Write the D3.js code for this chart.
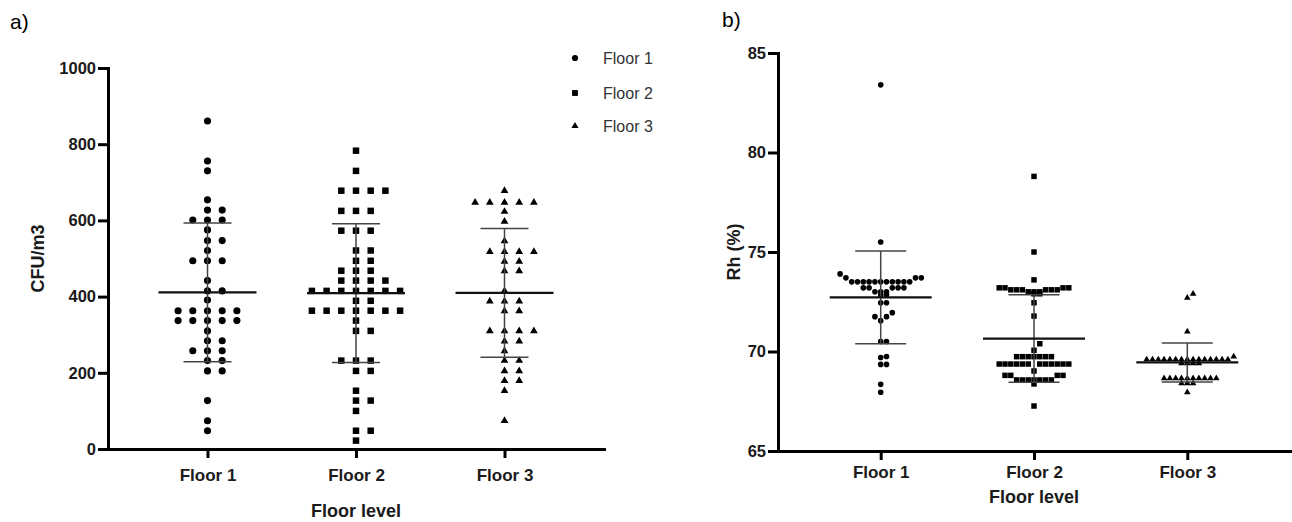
<!DOCTYPE html>
<html>
<head>
<meta charset="utf-8">
<script src="https://d3js.org/d3.v7.min.js"></script>
<style>
  body { margin: 0; background: #fff; }
  svg { display: block; }
  text { font-family: "Liberation Sans", Arial, sans-serif; }
</style>
</head>
<body>
<script>
// categories and tick values
const floors = ["Floor 1", "Floor 2", "Floor 3"];
const cfuTicks = [0, 200, 400, 600, 800, 1000];
const rhTicks = [65, 70, 75, 80, 85];

// a) CFU/m3 values
const cfuFloor1 = [861, 756, 730, 654, 627, 627, 601, 601, 601, 575, 547, 547, 521,
  494, 494, 494, 442, 415, 415, 391, 363, 363, 363, 363, 363, 337, 337, 337, 337, 337,
  310, 284, 284, 258, 258, 258, 232, 232, 205, 205, 127, 74, 48];
const cfuFloor2 = [783, 730, 678, 678, 678, 678, 625, 625, 625, 573, 573, 573, 521, 521,
  494, 494, 468, 468, 468, 442, 442, 442, 442, 415, 415, 415, 415, 415, 415, 415,
  389, 389, 363, 363, 363, 363, 363, 363, 363, 337, 310, 310, 232, 232, 232, 205, 205,
  153, 127, 127, 100, 48, 48, 22];
const cfuFloor3 = [678, 647, 647, 647, 647, 647, 623, 597, 546, 518, 518, 518, 518,
  492, 492, 467, 467, 415, 388, 388, 388, 362, 362, 310, 310, 310, 310, 283, 283, 257,
  232, 232, 205, 205, 179, 179, 153, 74];
const cfuMean = [411, 409, 410];
const cfuSd = [182, 182, 169];

// b) Rh (%) values
const rhFloor1 = [83.4, 75.5, 73.9, 73.7, 73.7, 73.7, 73.5, 73.5, 73.5, 73.5, 73.5, 73.5,
  73.5, 73.5, 73.5, 73.5, 73.5, 73.2, 73.2, 73.2, 73.2, 73.2, 73.0, 73.0, 73.0, 72.85,
  72.85, 72.45, 72.45, 71.95, 71.75, 71.75, 71.55, 70.5, 70.5, 69.75, 69.7, 69.35, 69.35,
  68.35, 67.95];
const rhFloor2 = [78.8, 75.0, 73.6, 73.2, 73.2, 73.2, 73.2, 73.1, 73.1, 73.1, 73.1, 73.1,
  73.1, 73.0, 73.0, 73.0, 72.9, 72.9, 72.45, 71.78, 70.39, 70.06, 69.74, 69.74, 69.74,
  69.74, 69.74, 69.74, 69.74, 69.37, 69.37, 69.37, 69.37, 69.37, 69.37, 69.37, 69.37,
  69.37, 69.37, 69.37, 69.37, 69.02, 68.8, 68.8, 68.8, 68.8, 68.57, 68.57, 68.57, 68.57,
  68.57, 68.57, 68.57, 68.37, 67.26];
const rhFloor3 = [72.9, 72.7, 71.0, 69.75, 69.6, 69.6, 69.6, 69.6, 69.6, 69.6, 69.6, 69.6,
  69.6, 69.6, 69.6, 69.6, 69.6, 69.6, 69.6, 69.4, 69.4, 69.4, 69.4, 68.65, 68.65, 68.65,
  68.65, 68.65, 68.65, 68.65, 68.65, 68.65, 68.65, 68.4, 68.4, 68.4, 67.95];
const rhMean = [72.72, 70.65, 69.45];
const rhSd = [2.33, 2.2, 0.98];

const W = 1292, H = 522;
const svg = d3.select("body").append("svg").attr("width", W).attr("height", H);

// spread points of one row (bin) sideways: 0, +1, -1, +2, -2 ...
function scatterLayout(values, binOf, step) {
  const bins = d3.group(values, binOf);
  const out = [];
  for (const [, pts] of bins) {
    pts.slice().sort((a, b) => a - b).forEach((v, k) => {
      const col = k === 0 ? 0 : (k % 2 ? (k + 1) / 2 : -k / 2);
      out.push({ v: v, dx: col * step });
    });
  }
  return out;
}

function drawPanel(cfg) {
  const x = d3.scalePoint().domain(floors).range(cfg.xRange).padding(0.67);
  const y = d3.scaleLinear().domain(cfg.yDomain).range(cfg.yRange);
  const g = svg.append("g");

  // points
  cfg.series.forEach((vals, i) => {
    const pts = scatterLayout(vals, cfg.binOf, cfg.step);
    g.append("g").selectAll("path")
      .data(pts)
      .join("path")
      .attr("d", d3.symbol().type(cfg.symbols[i]).size(cfg.symSize[i]))
      .attr("transform", d => "translate(" + (x(floors[i]) + d.dx) + "," + y(d.v) + ")")
      .attr("fill", "#000");
  });

  // mean and SD
  floors.forEach((f, i) => {
    const cx = x(f);
    const m = cfg.mean[i], s = cfg.sd[i];
    g.append("line").attr("x1", cx).attr("x2", cx)
      .attr("y1", y(m - s)).attr("y2", y(m + s))
      .attr("stroke", "#444").attr("stroke-width", 1.5);
    [m - s, m + s].forEach(v => {
      g.append("line").attr("x1", cx - cfg.capW / 2).attr("x2", cx + cfg.capW / 2)
        .attr("y1", y(v)).attr("y2", y(v))
        .attr("stroke", "#444").attr("stroke-width", 1.5);
    });
    g.append("line").attr("x1", cx - cfg.meanW / 2).attr("x2", cx + cfg.meanW / 2)
      .attr("y1", y(m)).attr("y2", y(m))
      .attr("stroke", "#111").attr("stroke-width", 2.3);
  });

  // axes
  const yAxis = svg.append("g")
    .attr("transform", "translate(" + cfg.xRange[0] + ",0)")
    .call(d3.axisLeft(y).tickValues(cfg.ticks).tickFormat(d3.format("d"))
      .tickSize(10).tickPadding(2).tickSizeOuter(0));
  yAxis.selectAll("text").attr("font-size", 16.5).attr("font-weight", "bold").attr("fill", "#1a1a1a")
    .attr("font-family", "'Liberation Sans', Arial, sans-serif");

  const xAxis = svg.append("g")
    .attr("transform", "translate(0," + cfg.yRange[0] + ")")
    .call(d3.axisBottom(x).tickSize(9).tickPadding(cfg.xPad).tickSizeOuter(0));
  xAxis.selectAll("text").attr("font-size", 17).attr("font-weight", "bold").attr("fill", "#1a1a1a")
    .attr("font-family", "'Liberation Sans', Arial, sans-serif");

  [yAxis, xAxis].forEach(a => {
    a.select(".domain").attr("stroke", "#000").attr("stroke-width", 3).attr("stroke-linecap", "square");
    a.selectAll(".tick line").attr("stroke", "#000").attr("stroke-width", 3);
  });

  // titles
  svg.append("text")
    .attr("x", (cfg.xRange[0] + cfg.xRange[1]) / 2).attr("y", cfg.xTitleY)
    .attr("text-anchor", "middle").attr("font-size", 18).attr("font-weight", "bold")
    .attr("fill", "#1a1a1a").text("Floor level");
  svg.append("text")
    .attr("transform", "translate(" + cfg.yTitleX + "," + (cfg.yRange[0] + cfg.yRange[1]) / 2 + ") rotate(-90)")
    .attr("text-anchor", "middle").attr("font-size", 18).attr("font-weight", "bold")
    .attr("fill", "#1a1a1a").text(cfg.yTitle);
  svg.append("text")
    .attr("x", cfg.tag[0]).attr("y", cfg.tag[1])
    .attr("font-family", "'Liberation Serif', 'Times New Roman', serif")
    .attr("font-size", 21).attr("fill", "#000").text(cfg.tagText);
}

const shapes = [d3.symbolCircle, d3.symbolSquare, d3.symbolTriangle];

drawPanel({
  xRange: [108, 604], yRange: [449, 68], yDomain: [0, 1000], ticks: cfuTicks,
  series: [cfuFloor1, cfuFloor2, cfuFloor3], mean: cfuMean, sd: cfuSd,
  binOf: v => v, step: 14.7, symbols: shapes, symSize: [40, 42, 26],
  capW: 48, meanW: 98, xPad: 11, xTitleY: 517, yTitleX: 44, yTitle: "CFU/m3",
  tag: [10, 29], tagText: "a)"
});

drawPanel({
  xRange: [778, 1290], yRange: [451, 53], yDomain: [65, 85], ticks: rhTicks,
  series: [rhFloor1, rhFloor2, rhFloor3], mean: rhMean, sd: rhSd,
  binOf: v => Math.floor(v / 0.5), step: 5.8, symbols: shapes, symSize: [25, 30, 19],
  capW: 51, meanW: 102, xPad: 6, xTitleY: 503, yTitleX: 740, yTitle: "Rh (%)",
  tag: [722, 27], tagText: "b)"
});

// legend of panel a
const legend = svg.append("g");
floors.forEach((f, i) => {
  const ly = [58, 93, 126][i];
  legend.append("path")
    .attr("d", d3.symbol().type(shapes[i]).size([30, 34, 22][i]))
    .attr("transform", "translate(575," + ly + ")")
    .attr("fill", "#000");
  legend.append("text")
    .attr("x", 603).attr("y", ly + 6)
    .attr("font-size", 16).attr("fill", "#333").text(f);
});
</script>
</body>
</html>
